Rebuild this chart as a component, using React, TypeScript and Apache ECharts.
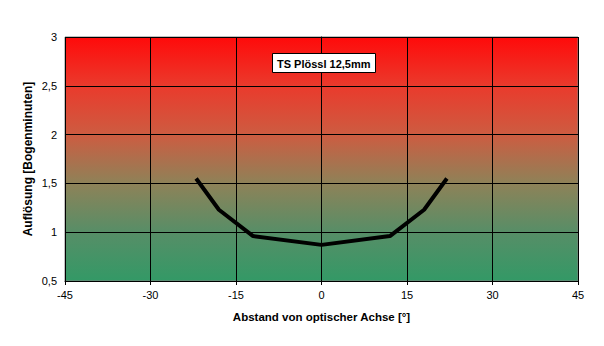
import React, { useEffect, useRef } from "react";
import * as echarts from "echarts";

const xValues = [-22, -18, -12, 0, 12, 18, 22];
const yValues = [1.55, 1.23, 0.96, 0.87, 0.96, 1.23, 1.55];
const titleText = "TS Plössl 12,5mm";
const xAxisName = "Abstand von optischer Achse [°]";
const yAxisName = "Auflösung [Bogenminuten]";

export default function App() {
  const ref = useRef<HTMLDivElement>(null);
  useEffect(() => {
    if (!ref.current) return;
    const chart = echarts.init(ref.current, null, { renderer: "svg" });
    const font = "'Liberation Sans', Arial, sans-serif";
    chart.setOption({
      animation: false,
      backgroundColor: "#ffffff",
      title: {
        text: titleText,
        left: 272,
        top: 53,
        padding: [5, 5, 4, 5],
        borderWidth: 1,
        borderColor: "#000",
        backgroundColor: "#fff",
        textStyle: { fontFamily: font, fontSize: 11, fontWeight: "bold", color: "#000" },
      },
      grid: {
        left: 65,
        right: 26,
        top: 37,
        bottom: 65,
        show: true,
        borderColor: "#808080",
        borderWidth: 1,
        backgroundColor: new echarts.graphic.LinearGradient(0, 0, 0, 1, [
          { offset: 0, color: "#ff0a0a" },
          { offset: 0.2, color: "#ea3a2c" },
          { offset: 0.4, color: "#cd5c41" },
          { offset: 0.6, color: "#8e8258" },
          { offset: 0.8, color: "#578e67" },
          { offset: 1, color: "#339966" },
        ]),
      },
      xAxis: {
        type: "value",
        min: -45,
        max: 45,
        interval: 15,
        name: xAxisName,
        nameLocation: "middle",
        nameGap: 30,
        nameTextStyle: { fontFamily: font, fontSize: 11.5, fontWeight: "bold", color: "#000" },
        axisLine: { show: true, onZero: false, lineStyle: { color: "#000", width: 1 } },
        axisTick: { show: true, length: 4, lineStyle: { color: "#000" } },
        axisLabel: { fontFamily: font, fontSize: 11, color: "#000", margin: 8 },
        splitLine: { show: true, lineStyle: { color: "#000", width: 1 } },
      },
      yAxis: {
        type: "value",
        min: 0.5,
        max: 3,
        interval: 0.5,
        name: yAxisName,
        nameLocation: "middle",
        nameGap: 31,
        nameMoveOverlap: false,
        nameTextStyle: { fontFamily: font, fontSize: 12, fontWeight: "bold", color: "#000" },
        axisLine: { show: true, lineStyle: { color: "#000", width: 1 } },
        axisTick: { show: true, length: 4, lineStyle: { color: "#000" } },
        axisLabel: {
          fontFamily: font,
          fontSize: 11,
          color: "#000",
          margin: 8,
          formatter: (v: number) => String(v).replace(".", ","),
        },
        splitLine: { show: true, lineStyle: { color: "#000", width: 1 } },
      },
      series: [
        {
          type: "line",
          data: xValues.map((x, i) => [x, yValues[i]]),
          symbol: "none",
          lineStyle: { color: "#000", width: 4 },
          silent: true,
        },
      ],
    });
    return () => chart.dispose();
  }, []);
  return (
    <div
      ref={ref}
      style={{ position: "fixed", left: 0, top: 0, width: 604, height: 346 }}
    />
  );
}
